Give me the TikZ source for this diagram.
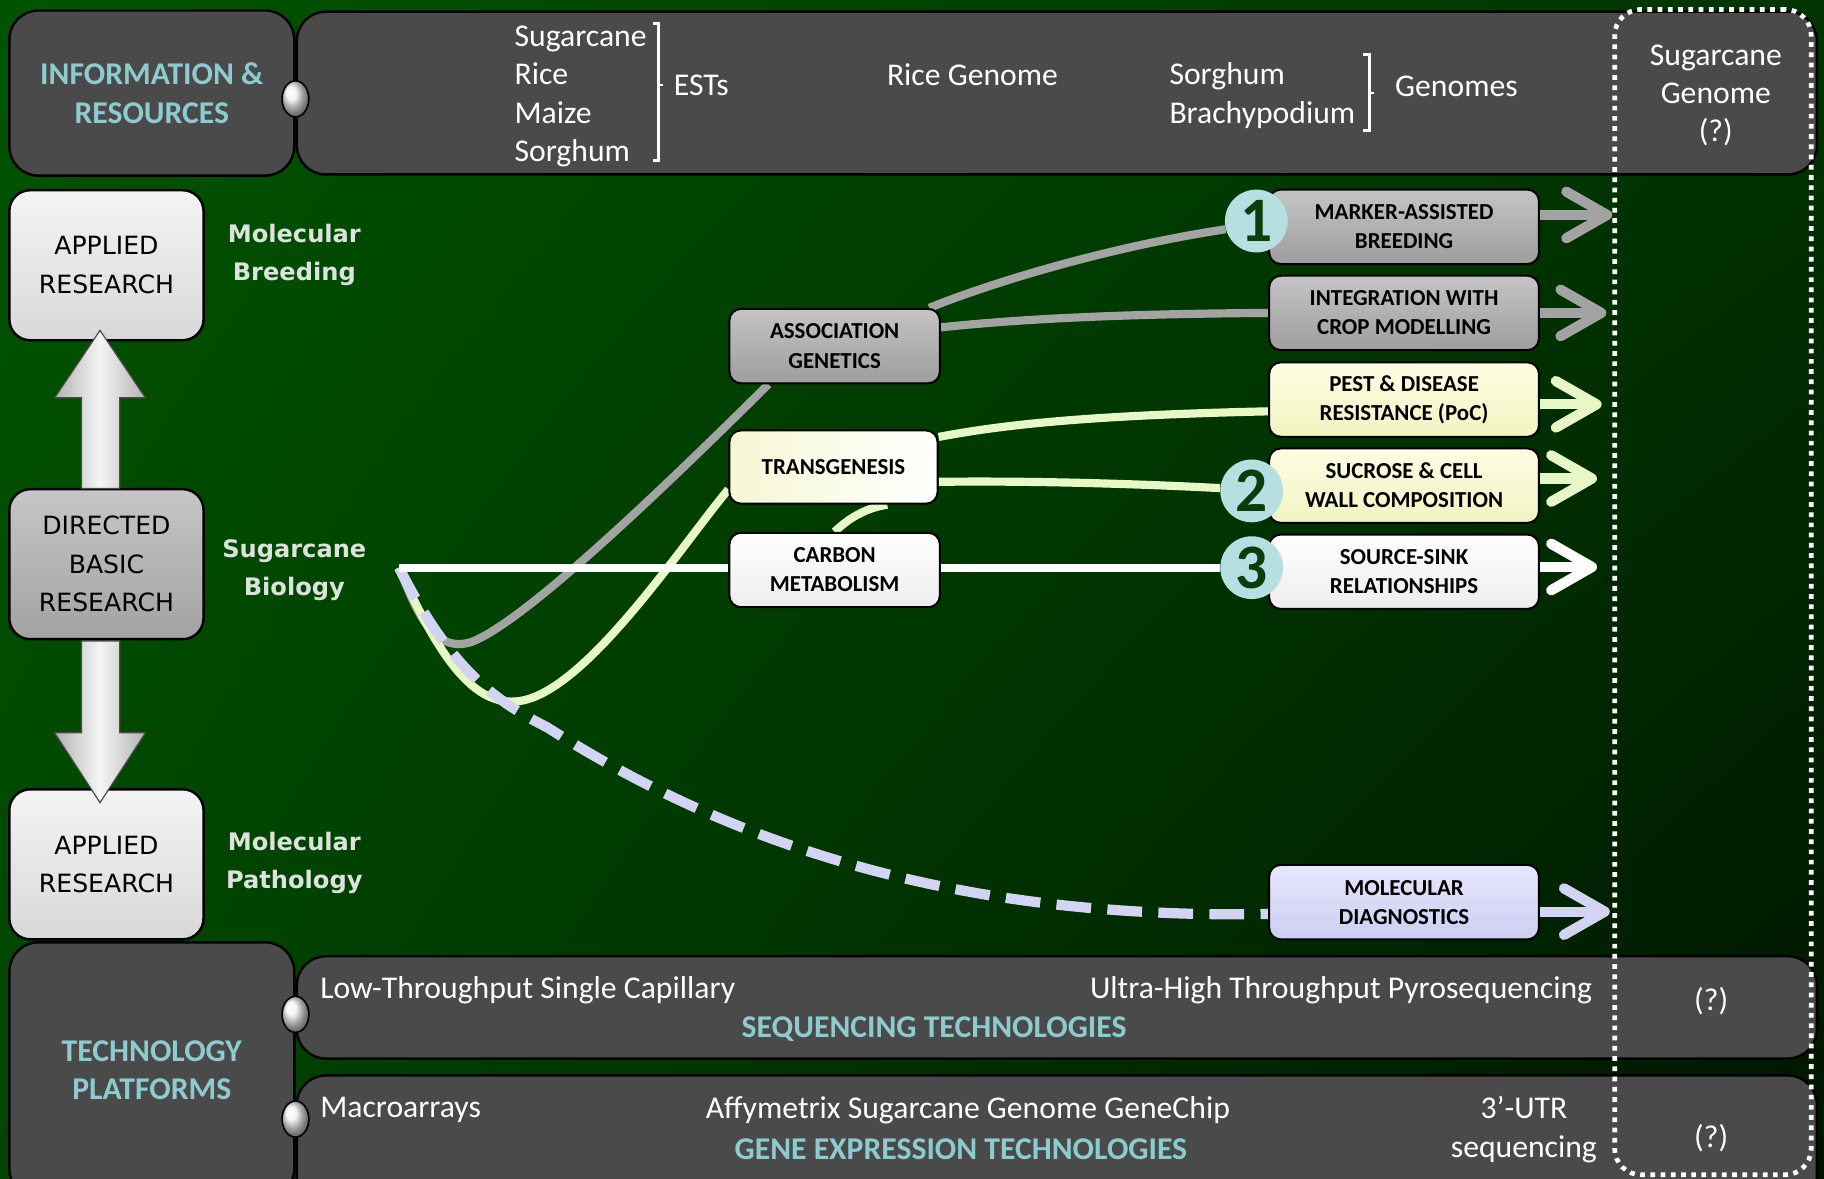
\documentclass[tikz,border=0pt]{standalone}
\usepackage{fontspec}
\setmainfont{Carlito}
\newfontfamily\vfont{DejaVu Sans}
\usepackage{tikz}
\usetikzlibrary{arrows.meta,shapes.geometric,shadings}
\definecolor{bgUL}{HTML}{005400}
\definecolor{bgUR}{HTML}{003400}
\definecolor{bgLL}{HTML}{004600}
\definecolor{bgLR}{HTML}{001400}
\definecolor{pnlgray}{HTML}{4A4A4A}
\definecolor{tealtxt}{HTML}{8DCBD0}
\definecolor{lbltxt}{HTML}{DCE3DC}
\definecolor{numfill}{HTML}{B7DFE2}
\definecolor{numtxt}{HTML}{0C3C0C}
\definecolor{linegray}{HTML}{A3A3A3}
\definecolor{lineyel}{HTML}{E8F7C6}
\definecolor{linelav}{HTML}{D3D3F3}
\definecolor{grayT}{HTML}{C4C4C4}
\definecolor{grayB}{HTML}{9E9E9E}
\definecolor{whiteB}{HTML}{EDEDED}
\definecolor{yelT}{HTML}{FDFDE2}
\definecolor{yelB}{HTML}{F1F4C2}
\definecolor{lavT}{HTML}{E6E6FD}
\definecolor{lavB}{HTML}{CDCDF2}
\definecolor{resT}{HTML}{F4F4F4}
\definecolor{resB}{HTML}{D8D8D8}
\definecolor{dirT}{HTML}{C6C6C6}
\definecolor{dirB}{HTML}{A2A2A2}
\newcommand{\pnlfont}{\fontsize{15.5}{18.8}\selectfont}
\newcommand{\tagfont}{\fontsize{11.2}{14.2}\selectfont\bfseries}
\newcommand{\resfont}{\vfont\fontsize{12.3}{18.8}\selectfont}
\newcommand{\lblfont}{\vfont\bfseries\fontsize{11.8}{18.8}\selectfont}
\newcommand{\numfont}{\fontsize{31}{31}\selectfont\bfseries}
\pgfdeclarelayer{bg}
\pgfdeclarelayer{wires}
\pgfsetlayers{bg,wires,main}

\begin{document}
\begin{tikzpicture}[x=0.02cm, y=-0.02cm,
  panel/.style={draw=black, line width=1.2pt, fill=pnlgray, rounded corners=0.5cm, inner sep=0pt},
  knob/.style={ellipse, draw=black, line width=0.8pt, minimum width=0.46cm, minimum height=0.62cm, inner sep=0pt, ball color=gray!10},
  ptxt/.style={text=white, font=\pnlfont, inner sep=0pt},
  ttxt/.style={text=tealtxt, font=\pnlfont\bfseries, inner sep=0pt, align=center},
  brk/.style={draw=white, line width=1.3pt},
  resbox/.style={draw=black, line width=1.2pt, rounded corners=0.36cm, minimum width=3.34cm, minimum height=2.58cm, align=center, font=\resfont},
  lbl/.style={text=lbltxt, font=\lblfont, align=center, inner sep=0pt},
  tag/.style={draw=black, line width=1pt, rounded corners=0.2cm, minimum width=4.64cm, minimum height=1.28cm, align=center, font=\tagfont, inner sep=1pt},
  midtag/.style={tag, minimum width=3.62cm},
  graytag/.style={top color=grayT, bottom color=grayB},
  whitetag/.style={top color=white, bottom color=whiteB},
  yeltag/.style={top color=yelT, bottom color=yelB},
  lavtag/.style={top color=lavT, bottom color=lavB},
  numc/.style={circle, fill=numfill, minimum size=1.08cm, inner sep=0pt, font=\numfont, text=numtxt},
  wire/.style={line width=4pt},
  dashwire/.style={line width=5pt, draw=linelav, dash pattern=on 17pt off 8pt},
  outarr/.style={line width=5pt, -{Straight Barb[length=0.7cm, width=0.8cm, round]}},
  blk/.style={left color=gray!60, right color=gray!60, middle color=gray!8, draw=black!70, line width=0.6pt},
  dotbox/.style={draw=white, line width=2.3pt, dash pattern=on 2.3pt off 2.7pt, rounded corners=0.45cm, minimum width=3.38cm, minimum height=20.04cm, inner sep=0pt}]

\useasboundingbox (0,0) rectangle (1568,1013);
\clip (0,0) rectangle (1568,1013);
\begin{pgfonlayer}{bg}
\shade[upper left=bgUL, upper right=bgUR, lower left=bgLL, lower right=bgLR] (0,0) rectangle (1568,1013);
\end{pgfonlayer}

% top band
\node[panel, minimum width=4.9cm, minimum height=2.84cm, ttxt] (info) at (130.5,80) {INFORMATION \&\\RESOURCES};
\node[panel, minimum width=26.14cm, minimum height=2.8cm] (toppnl) at (908.5,80) {};
\node[knob] (k1) at (254,85) {};
\node[ptxt, align=left, anchor=west] (ests) at (442,83) {Sugarcane\\Rice\\Maize\\Sorghum};
\draw[brk] (561,20) -- (566,20) -- (566,138) -- (561,138) (566,73) -- (570,73);
\node[ptxt, anchor=west] (estlbl) at (579,73) {ESTs};
\node[ptxt] (ricegen) at (836,64) {Rice Genome};
\node[ptxt, align=left, anchor=west] (gspecies) at (1005,82) {Sorghum\\Brachypodium};
\draw[brk] (1172,47) -- (1177,47) -- (1177,112) -- (1172,112) (1177,80) -- (1181,80);
\node[ptxt, anchor=west] (genlbl) at (1199,74) {Genomes};
\node[ptxt, align=center] (scgen) at (1475,82) {Sugarcane\\Genome\\(?)};

% bottom band
\node[panel, minimum width=4.9cm, minimum height=4.4cm, ttxt] (techplat) at (130.5,920) {TECHNOLOGY\\PLATFORMS};
\node[panel, minimum width=26.14cm, minimum height=1.76cm] (seqpnl) at (908.5,866) {};
\node[panel, minimum width=26.14cm, minimum height=2.3cm] (genepnl) at (908.5,982) {};
\node[knob] (k2) at (254,872) {};
\node[knob] (k3) at (254,962) {};
\node[ptxt, anchor=west] (lowthr) at (275,851) {Low-Throughput Single Capillary};
\node[ptxt, anchor=east] (ultra) at (1369,851) {Ultra-High Throughput Pyrosequencing};
\node[ttxt] (seqtech) at (803,885) {SEQUENCING TECHNOLOGIES};
\node[ptxt] (q1) at (1471,861) {(?)};
\node[ptxt, anchor=west] (macro) at (275,954) {Macroarrays};
\node[ptxt] (affy) at (832,954) {Affymetrix Sugarcane Genome GeneChip};
\node[ptxt, align=center] (utr) at (1310,971) {3’-UTR\\sequencing};
\node[ttxt] (genetech) at (826,988) {GENE EXPRESSION TECHNOLOGIES};
\node[ptxt] (q2) at (1471,978) {(?)};

% research levels
\node[resbox, top color=resT, bottom color=resB] (applA) at (91.5,228) {APPLIED\\RESEARCH};
\node[resbox, top color=dirT, bottom color=dirB] (directed) at (91.5,485) {DIRECTED\\BASIC\\RESEARCH};
\node[resbox, top color=resT, bottom color=resB] (applB) at (91.5,743) {APPLIED\\RESEARCH};
\shade[blk] (70,420) -- (70,342) -- (47,342) -- (86,284) -- (125,342) -- (103,342) -- (103,420) -- cycle;
\shade[blk] (70,551) -- (70,630) -- (47,630) -- (86,690) -- (125,630) -- (103,630) -- (103,551) -- cycle;
\node[lbl] (molbreed) at (253,219) {Molecular\\Breeding};
\node[lbl] (scbio) at (253,490) {Sugarcane\\Biology};
\node[lbl] (molpath) at (253,742) {Molecular\\Pathology};

% approaches
\node[midtag, graytag] (assoc) at (717.5,297.5) {ASSOCIATION\\GENETICS};
\node[midtag, whitetag, left color=yelB!70, right color=white, minimum width=3.58cm, minimum height=1.26cm] (transg) at (716.5,401.5) {TRANSGENESIS};
\node[midtag, whitetag] (carbon) at (717.5,490) {CARBON\\METABOLISM};

% outcomes
\node[tag, graytag] (mab) at (1207,195) {MARKER-ASSISTED\\BREEDING};
\node[tag, graytag] (integ) at (1207,269) {INTEGRATION WITH\\CROP MODELLING};
\node[tag, yeltag] (pest) at (1207,343.5) {PEST \& DISEASE\\RESISTANCE (PoC)};
\node[tag, yeltag] (sucrose) at (1207,417.5) {SUCROSE \& CELL\\WALL COMPOSITION};
\node[tag, whitetag] (srcsink) at (1207,491.5) {SOURCE-SINK\\RELATIONSHIPS};
\node[tag, lavtag] (moldiag) at (1207,775.5) {MOLECULAR\\DIAGNOSTICS};
\node[numc] (c1) at (1080,190) {1};
\node[numc] (c2) at (1076,422) {2};
\node[numc] (c3) at (1076,488) {3};

\draw[outarr, linegray] (mab.5) -- ++(62,0);
\draw[outarr, linegray] (integ.east) -- ++(57,0);
\draw[outarr, lineyel] (pest.-2) -- ++(53,0);
\draw[outarr, lineyel] (sucrose.3) -- ++(49,0);
\draw[outarr, white] (srcsink.2) -- ++(49,0);
\draw[outarr, linelav] (moldiag.-4) -- ++(60,0);

\node[dotbox] (future) at (1472.5,509) {};

% connectors
\coordinate (src) at (343,488);
\begin{pgfonlayer}{wires}
\draw[wire, linegray] (src) .. controls (358,525) and (372,562) .. (405,552) .. controls (450,535) and (565,425) .. (assoc.-150);
\draw[wire, linegray] (assoc.22) .. controls (855,242) and (955,212) .. (c1.195);
\draw[wire, linegray] (assoc.10) .. controls (870,275) and (950,270) .. (integ.west);
\draw[wire, lineyel] (src) .. controls (375,560) and (405,606) .. (443,603) .. controls (500,600) and (585,470) .. (transg.-168);
\draw[wire, lineyel] (transg.16) .. controls (880,362) and (980,351) .. (pest.-4);
\draw[wire, lineyel] (transg.-8) .. controls (900,413) and (1000,417) .. (c2.175);
\draw[wire, lineyel] (carbon.north) .. controls (732,443) and (748,436) .. (transg.-35);
\draw[dashwire] (src) .. controls (385,570) and (420,600) .. (470,625) .. controls (650,740) and (850,790) .. (moldiag.-175);
\draw[wire, white] (src) -- (carbon.west |- src);
\draw[wire, white] (carbon.east |- c3) -- (c3.west);
\end{pgfonlayer}
\end{tikzpicture}
\end{document}
